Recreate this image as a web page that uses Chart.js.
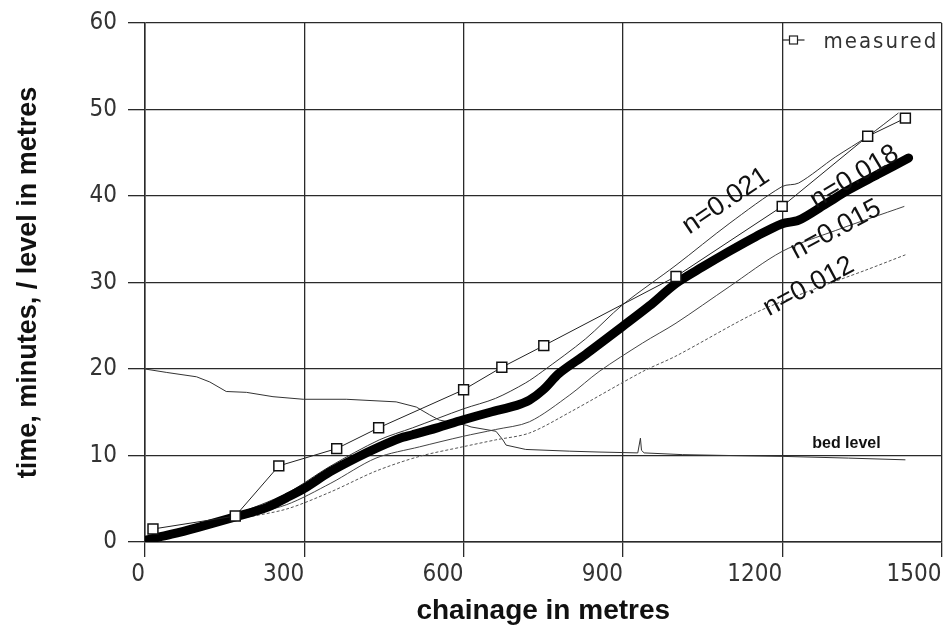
<!DOCTYPE html>
<html><head><meta charset="utf-8">
<script src="https://cdn.jsdelivr.net/npm/chart.js@4.4.1/dist/chart.umd.min.js"></script>
<style>html,body{margin:0;padding:0;background:#fff;}#wrap{width:950px;height:630px;}</style>
</head><body><div id="wrap"><canvas id="c" width="950" height="630"></canvas></div>
<script>
// ---- data ----
const xTicks = [0, 300, 600, 900, 1200, 1500];
const yTicks = [0, 10, 20, 30, 40, 50, 60];

const measuredX = [15, 170, 252, 361, 440, 600, 672, 751, 1000, 1200, 1361, 1432];
const measuredY = [1.5, 3.0, 8.8, 10.8, 13.2, 17.6, 20.2, 22.7, 30.7, 38.8, 46.9, 49.0];

const n018X = [0, 50, 100, 170, 230, 266, 300, 348, 400, 441, 480, 504, 550, 598, 650, 700, 724, 750, 780, 830, 899, 950, 1000, 1050, 1100, 1150, 1200, 1231, 1280, 1325, 1380, 1438];
const n018Y = [0.2, 0.9, 1.7, 2.9, 4.0, 5.1, 6.2, 8.1, 9.8, 11.0, 12.0, 12.4, 13.2, 14.1, 15.0, 15.8, 16.4, 17.6, 19.5, 21.7, 24.9, 27.3, 29.9, 31.8, 33.6, 35.3, 36.8, 37.2, 39.0, 40.7, 42.5, 44.4];

const n021X = [0, 100, 170, 266, 350, 441, 504, 600, 660, 717, 748, 830, 899, 1000, 1100, 1200, 1231, 1300, 1361, 1419];
const n021Y = [0.3, 1.9, 3.2, 5.6, 8.8, 11.8, 13.2, 15.4, 16.6, 18.4, 19.7, 23.5, 27.4, 32.0, 36.8, 41.1, 41.5, 44.5, 46.9, 49.6];

const n015X = [0, 100, 170, 266, 350, 435, 517, 598, 660, 724, 800, 855, 937, 1000, 1100, 1200, 1300, 1430];
const n015Y = [0, 1.6, 2.8, 4.3, 6.8, 9.7, 11.0, 12.2, 13.0, 13.9, 17.0, 19.7, 23.0, 25.3, 29.5, 33.6, 36.0, 38.8];

const n012X = [0, 100, 170, 266, 350, 435, 517, 598, 660, 724, 800, 937, 1000, 1150, 1250, 1356, 1432];
const n012Y = [0, 1.5, 2.6, 3.8, 5.8, 8.2, 9.9, 11.0, 11.8, 12.6, 15.0, 19.7, 21.5, 26.5, 29.0, 31.4, 33.2];

const bedX = [0, 41, 97, 122, 153, 191, 241, 298, 379, 473, 511, 536, 554, 605, 614, 661, 674, 680, 717, 800, 855, 928, 933, 935, 940, 1012, 1100, 1200, 1325, 1432];
const bedY = [20.0, 19.6, 19.1, 18.5, 17.4, 17.3, 16.8, 16.5, 16.5, 16.2, 15.6, 14.7, 14.1, 13.5, 13.3, 12.8, 11.8, 11.2, 10.7, 10.5, 10.4, 10.3, 12.0, 10.6, 10.3, 10.1, 10.0, 9.9, 9.7, 9.5];

const seriesLabels = ['n=0.021', 'n=0.018', 'n=0.015', 'n=0.012'];
const bedLabel = 'bed level';
const legendLabel = 'measured';

// ---- annotation placement (in data units) ----
const labelAnchors = [
  {text: seriesLabels[0], x: 1094, y: 39.4, angle: -34},
  {text: seriesLabels[1], x: 1336, y: 42.2, angle: -31},
  {text: seriesLabels[2], x: 1301, y: 36.1, angle: -28},
  {text: seriesLabels[3], x: 1250, y: 29.5, angle: -28}
];
const bedAnchor = {x: 1321, y: 11.4};

const pts = (xs, ys) => xs.map((v, i) => ({x: v, y: ys[i]}));

const NARROW = "'Liberation Sans Narrow','DejaVu Sans Condensed','Arial Narrow',sans-serif";
const SANS = "'Liberation Sans',Arial,Helvetica,sans-serif";

const annot = {
  id: 'annot',
  afterDatasetsDraw(chart) {
    const {ctx, scales: {x, y}, chartArea} = chart;
    ctx.save();
    ctx.fillStyle = '#111';
    ctx.textAlign = 'center';
    ctx.textBaseline = 'middle';
    ctx.font = '27px ' + SANS;
    labelAnchors.forEach(a => {
      ctx.save();
      ctx.translate(x.getPixelForValue(a.x), y.getPixelForValue(a.y));
      ctx.rotate(a.angle * Math.PI / 180);
      ctx.fillText(a.text, 0, 0);
      ctx.restore();
    });
    ctx.font = 'bold 16px ' + SANS;
    ctx.fillText(bedLabel, x.getPixelForValue(bedAnchor.x), y.getPixelForValue(bedAnchor.y));
    // legend
    const lx = chartArea.right - 159, ly = chartArea.top + 17;
    ctx.strokeStyle = '#222';
    ctx.lineWidth = 1.2;
    ctx.beginPath(); ctx.moveTo(lx, ly); ctx.lineTo(lx + 22, ly); ctx.stroke();
    ctx.fillStyle = '#fff';
    ctx.fillRect(lx + 7, ly - 4, 8, 8);
    ctx.strokeRect(lx + 7, ly - 4, 8, 8);
    ctx.fillStyle = '#333';
    ctx.textAlign = 'left';
    ctx.font = '22px ' + NARROW;
    try { ctx.letterSpacing = '2px'; } catch (e) {}
    ctx.fillText(legendLabel, lx + 41, ly + 2);
    ctx.restore();
  }
};

const gridColor = '#2a2a2a';

new Chart(document.getElementById('c'), {
  type: 'line',
  data: {
    datasets: [
      {label: legendLabel, data: pts(measuredX, measuredY), borderColor: '#222', borderWidth: 1,
       pointStyle: 'rect', pointRadius: 7, pointBackgroundColor: '#fff', pointBorderColor: '#111', pointBorderWidth: 1.5, order: 0},
      {label: seriesLabels[1], data: pts(n018X, n018Y), borderColor: '#000', borderWidth: 9, pointRadius: 0,
       borderCapStyle: 'round', borderJoinStyle: 'round', tension: 0.3, order: 1},
      {label: seriesLabels[0], data: pts(n021X, n021Y), borderColor: '#333', borderWidth: 1, pointRadius: 0, tension: 0.3, order: 2},
      {label: seriesLabels[2], data: pts(n015X, n015Y), borderColor: '#444', borderWidth: 1, pointRadius: 0, tension: 0.3, order: 2},
      {label: seriesLabels[3], data: pts(n012X, n012Y), borderColor: '#555', borderWidth: 1, borderDash: [3, 2], pointRadius: 0, tension: 0.3, order: 2},
      {label: bedLabel, data: pts(bedX, bedY), borderColor: '#333', borderWidth: 1, pointRadius: 0, tension: 0, order: 3}
    ]
  },
  options: {
    responsive: false,
    animation: false,
    devicePixelRatio: 1,
    layout: {padding: {top: 23, right: 7, left: 0, bottom: 0}},
    plugins: {legend: {display: false}, tooltip: {enabled: false}},
    scales: {
      x: {
        type: 'linear', min: 0, max: 1500,
        afterBuildTicks: s => { s.ticks = xTicks.map(v => ({value: v})); },
        afterFit: s => { s.height = 88; s.paddingLeft = 0; s.paddingRight = 0; },
        ticks: {color: '#333', font: {family: NARROW, size: 24}, padding: 3, maxRotation: 0, autoSkip: false,
                align: 'end', callback: v => String(v)},
        grid: {color: gridColor, lineWidth: 1.3, tickLength: 15, tickColor: gridColor},
        border: {display: true, color: gridColor, width: 1.5},
        title: {display: true, text: 'chainage in metres', color: '#111',
                font: {family: SANS, size: 28, weight: 'bold'}, padding: {top: 0, bottom: 2}}
      },
      y: {
        min: 0, max: 60,
        afterBuildTicks: s => { s.ticks = yTicks.map(v => ({value: v})); },
        afterFit: s => { s.width = 145; s.paddingTop = 0; s.paddingBottom = 0; },
        ticks: {color: '#333', font: {family: NARROW, size: 24}, padding: 11, autoSkip: false,
                callback: v => String(v)},
        grid: {color: gridColor, lineWidth: 1.3, tickLength: 17, tickColor: gridColor},
        border: {display: true, color: gridColor, width: 1.5},
        title: {display: true, text: 'time, minutes, / level in metres', color: '#111',
                font: {family: SANS, size: 27, weight: 'bold'}, padding: {top: 12, bottom: 0}}
      }
    }
  },
  plugins: [annot]
});
</script>
</body></html>
